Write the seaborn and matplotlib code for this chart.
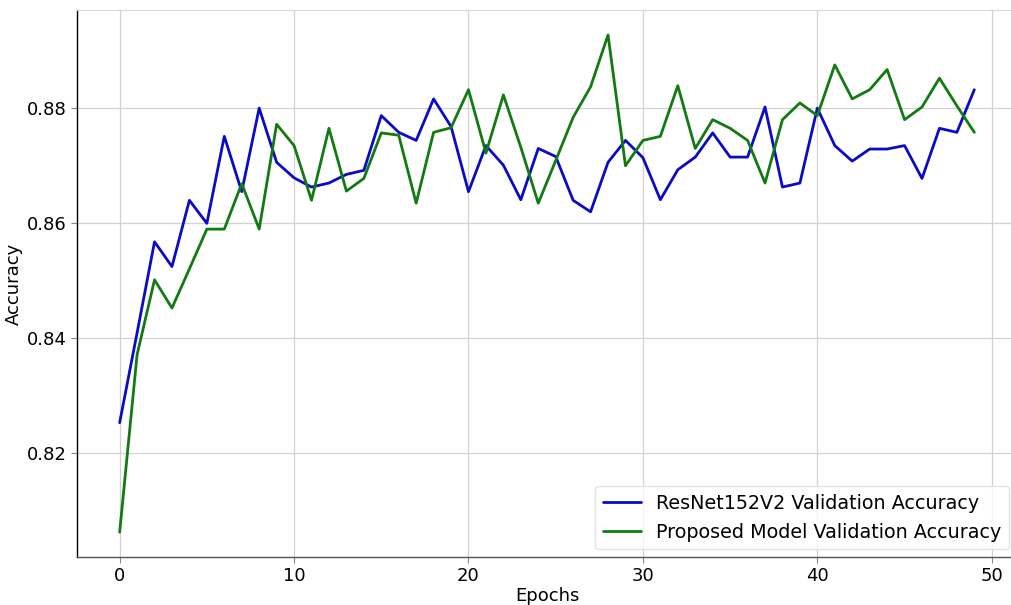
import numpy as np
import pandas as pd
import matplotlib
matplotlib.use("Agg")
import matplotlib.pyplot as plt
import seaborn as sns

epochs = list(range(50))
resnet_acc = [0.8253, 0.8409, 0.8567, 0.8524, 0.8639, 0.8599, 0.8750, 0.8654, 0.8799, 0.8705,
              0.8678, 0.8662, 0.8669, 0.8684, 0.8691, 0.8786, 0.8757, 0.8743, 0.8815, 0.8767,
              0.8654, 0.8734, 0.8700, 0.8640, 0.8729, 0.8715, 0.8639, 0.8619, 0.8705, 0.8743,
              0.8713, 0.8640, 0.8692, 0.8714, 0.8756, 0.8714, 0.8714, 0.8801, 0.8662, 0.8669,
              0.8799, 0.8734, 0.8707, 0.8728, 0.8728, 0.8734, 0.8677, 0.8764, 0.8757, 0.8831]
proposed_acc = [0.8063, 0.8371, 0.8501, 0.8452, 0.8520, 0.8589, 0.8589, 0.8668, 0.8589, 0.8771,
                0.8734, 0.8639, 0.8764, 0.8655, 0.8677, 0.8756, 0.8752, 0.8634, 0.8757, 0.8765,
                0.8831, 0.8721, 0.8822, 0.8731, 0.8634, 0.8708, 0.8783, 0.8836, 0.8926, 0.8699,
                0.8743, 0.8750, 0.8838, 0.8729, 0.8779, 0.8764, 0.8743, 0.8669, 0.8779, 0.8808,
                0.8786, 0.8874, 0.8815, 0.8831, 0.8866, 0.8779, 0.8801, 0.8851, 0.8803, 0.8757]
series_names = ["ResNet152V2 Validation Accuracy", "Proposed Model Validation Accuracy"]

df = pd.DataFrame({
    "Epochs": epochs * 2,
    "Accuracy": resnet_acc + proposed_acc,
    "Model": [series_names[0]] * len(epochs) + [series_names[1]] * len(epochs),
})

sns.set_style("whitegrid")
plt.rcParams["font.family"] = ["DejaVu Sans"]
plt.rcParams["text.color"] = "black"
plt.rcParams["axes.labelcolor"] = "black"
plt.rcParams["xtick.color"] = "black"
plt.rcParams["ytick.color"] = "black"

fig = plt.figure(figsize=(10.12, 6.05), dpi=100)
ax = fig.add_axes([0.076, 0.0793, 0.929, 0.904])

sns.lineplot(data=df, x="Epochs", y="Accuracy", hue="Model",
             palette=["#0a0ac8", "#137a13"], linewidth=2, ax=ax)

ax.grid(True, color="#d2d2d2", linewidth=0.9)
for side in ["top", "right"]:
    ax.spines[side].set_color("#d8d8d8")
ax.spines["left"].set_color("black")
ax.spines["bottom"].set_color("#555555")
ax.spines["left"].set_linewidth(1.0)
ax.spines["bottom"].set_linewidth(1.0)
ax.tick_params(axis="both", labelsize=13, length=4, color="#888888", left=True, bottom=True,
               labelcolor="black")
ax.set_xlabel("Epochs", fontsize=13, labelpad=1)
ax.set_ylabel("Accuracy", fontsize=13, labelpad=3)
ax.set_xticks([0, 10, 20, 30, 40, 50])
ax.set_yticks([0.82, 0.84, 0.86, 0.88])
ax.margins(x=0.05, y=0.05)

leg = ax.legend(loc="lower right", fontsize=13.8, frameon=True, borderaxespad=0.4)
leg.get_frame().set_edgecolor("#dddddd")

fig.savefig("out.png", dpi=100)
